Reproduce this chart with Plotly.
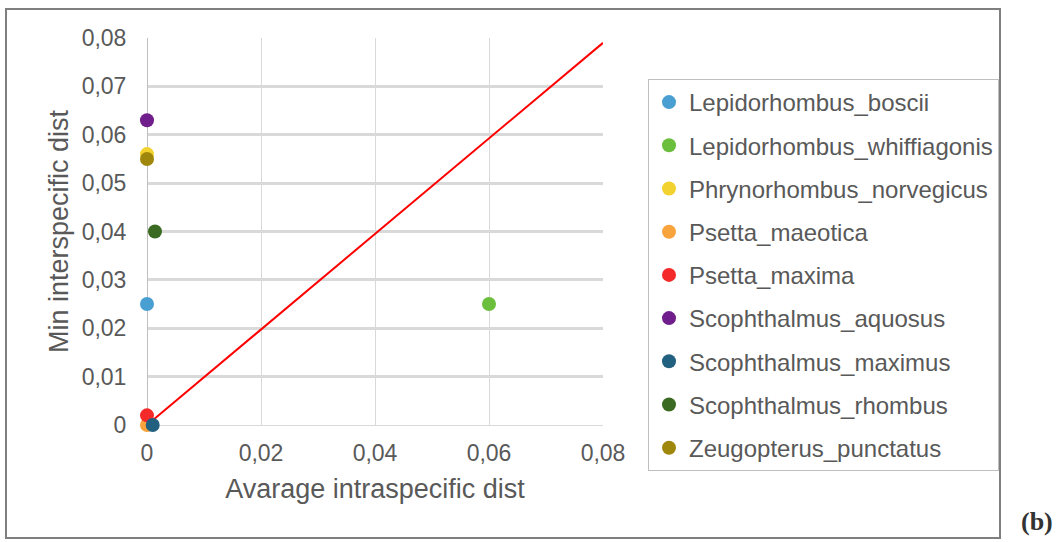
import plotly.graph_objects as go

species = ["Lepidorhombus_boscii", "Lepidorhombus_whiffiagonis", "Phrynorhombus_norvegicus",
           "Psetta_maeotica", "Psetta_maxima", "Scophthalmus_aquosus", "Scophthalmus_maximus",
           "Scophthalmus_rhombus", "Zeugopterus_punctatus"]
avg_intra = [0.0, 0.06, 0.0, 0.0, 0.0, 0.0, 0.001, 0.0014, 0.0]
min_inter = [0.025, 0.025, 0.056, 0.0, 0.002, 0.063, 0.0, 0.04, 0.055]
colors = ["#4A9FD2", "#6CBF3C", "#F2D22E", "#F9A33C", "#F42A2A", "#6F1E8B", "#22607F", "#3B6B22", "#9F870B"]

line_x = [0.0, 0.08]
line_y = [0.0, 0.079]

tick_vals = [0, 0.01, 0.02, 0.03, 0.04, 0.05, 0.06, 0.07, 0.08]
tick_text = ["0", "0,01", "0,02", "0,03", "0,04", "0,05", "0,06", "0,07", "0,08"]
xtick_vals = [0, 0.02, 0.04, 0.06, 0.08]
xtick_text = ["0", "0,02", "0,04", "0,06", "0,08"]

W, H = 1060, 542
L, R, T, B = 147, 603, 38, 425

def px(x):
    return (x - L) / (R - L)

def py(y):
    return (B - y) / (B - T)

fig = go.Figure()
fig.add_trace(go.Scatter(x=line_x, y=line_y, mode="lines", line=dict(color="#FF0000", width=2),
                         showlegend=False, hoverinfo="skip"))
for i, name in enumerate(species):
    fig.add_trace(go.Scatter(x=[avg_intra[i]], y=[min_inter[i]], mode="markers", name=name,
                             legendgroup=name,
                             marker=dict(color=colors[i], size=14), cliponaxis=False))

font_fam = "Liberation Sans, Arial, sans-serif"
fig.update_layout(
    width=W, height=H,
    margin=dict(l=L, r=W - R, t=T, b=H - B),
    plot_bgcolor="white", paper_bgcolor="white",
    font=dict(family=font_fam, color="#595959", size=23),
    showlegend=True,
    legend=dict(x=px(648), y=py(79), xanchor="left", yanchor="top",
                bordercolor="#BFBFBF", borderwidth=1, font=dict(size=24, color="#595959"),
                tracegroupgap=9, traceorder="grouped", itemwidth=30, maxheight=520),
    xaxis=dict(range=[0, 0.08], tickvals=xtick_vals, ticktext=xtick_text,
               showgrid=True, gridcolor="#D9D9D9", gridwidth=1,
               zeroline=True, zerolinecolor="#BFBFBF", zerolinewidth=1,
               ticks="outside", ticklen=7, tickcolor="rgba(0,0,0,0)",
               tickfont=dict(size=23),
               title=dict(text="Avarage intraspecific dist", font=dict(size=27, color="#595959"), standoff=14)),
    yaxis=dict(range=[0, 0.08], tickvals=tick_vals, ticktext=tick_text,
               showgrid=True, gridcolor="#D9D9D9", gridwidth=3,
               zeroline=True, zerolinecolor="#D9D9D9", zerolinewidth=1,
               ticks="outside", ticklen=15, tickcolor="rgba(0,0,0,0)",
               tickfont=dict(size=23),
               title=dict(text="Min interspecific dist", font=dict(size=27, color="#595959"), standoff=5)),
    shapes=[dict(type="rect", xref="paper", yref="paper", x0=px(6), x1=px(1000), y0=py(538), y1=py(9),
                 line=dict(color="#7F7F7F", width=2), fillcolor="rgba(0,0,0,0)", layer="below")],
    annotations=[dict(text="<b>(b)</b>", xref="paper", yref="paper", x=px(1037), y=py(521),
                      xanchor="center", yanchor="middle",
                      showarrow=False, font=dict(family="Liberation Serif, serif", size=26, color="#333333"))],
)

fig.write_html("out.html", config={"displayModeBar": False},
               post_script="document.body.style.margin='0';document.body.style.overflow='hidden';")
